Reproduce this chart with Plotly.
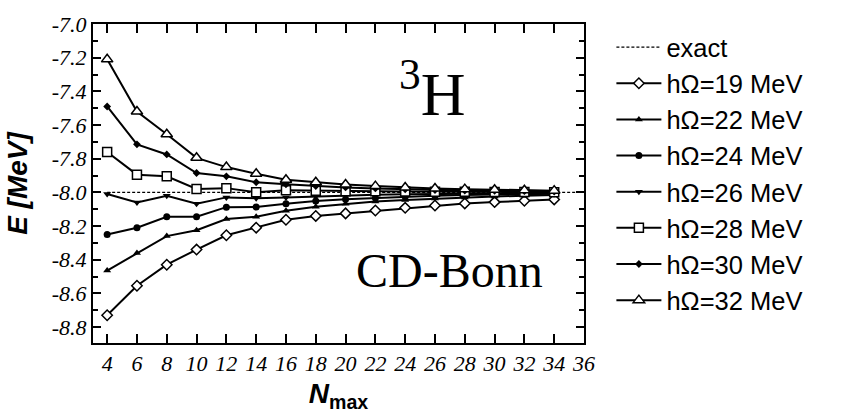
import plotly.graph_objects as go

# ---- data ----
n_max = [4, 6, 8, 10, 12, 14, 16, 18, 20, 22, 24, 26, 28, 30, 32, 34]
exact_E = -8.0
exact_x = [4, 36]

e_19 = [-8.73, -8.555, -8.43, -8.34, -8.255, -8.21, -8.163, -8.14, -8.125, -8.108, -8.092, -8.078, -8.066, -8.058, -8.05, -8.042]
e_22 = [-8.465, -8.36, -8.26, -8.225, -8.158, -8.145, -8.11, -8.085, -8.068, -8.055, -8.045, -8.037, -8.03, -8.025, -8.02, -8.016]
e_24 = [-8.25, -8.21, -8.145, -8.145, -8.088, -8.087, -8.068, -8.052, -8.041, -8.033, -8.026, -8.02, -8.016, -8.013, -8.01, -8.008]
e_26 = [-8.01, -8.06, -8.02, -8.068, -8.03, -8.035, -8.03, -8.024, -8.019, -8.015, -8.012, -8.01, -8.008, -8.006, -8.005, -8.004]
e_28 = [-7.76, -7.895, -7.905, -7.98, -7.975, -8.0, -7.988, -7.991, -7.993, -7.994, -7.995, -7.996, -7.997, -7.998, -7.998, -7.999]
e_30 = [-7.49, -7.715, -7.775, -7.885, -7.905, -7.94, -7.952, -7.963, -7.971, -7.977, -7.982, -7.986, -7.989, -7.991, -7.993, -7.995]
e_32 = [-7.21, -7.52, -7.655, -7.795, -7.85, -7.89, -7.925, -7.94, -7.953, -7.963, -7.971, -7.977, -7.981, -7.985, -7.988, -7.99]

series_names = ["hΩ=19 MeV", "hΩ=22 MeV", "hΩ=24 MeV", "hΩ=26 MeV",
                "hΩ=28 MeV", "hΩ=30 MeV", "hΩ=32 MeV"]
series_values = [e_19, e_22, e_24, e_26, e_28, e_30, e_32]

x_ticks = list(range(4, 37, 2))
x_tick_labels = [str(v) for v in x_ticks]
y_ticks = [-8.8, -8.6, -8.4, -8.2, -8.0, -7.8, -7.6, -7.4, -7.2, -7.0]
y_tick_labels = ["-8.8", "-8.6", "-8.4", "-8.2", "-8.0", "-7.8", "-7.6", "-7.4", "-7.2", "-7.0"]

# ---- styles ----
marker_styles = [
    dict(symbol="diamond", size=8, color="white", line=dict(color="black", width=1.5)),
    dict(symbol="triangle-up", size=7, color="black", line=dict(color="black", width=0)),
    dict(symbol="circle", size=7, color="black", line=dict(color="black", width=0)),
    dict(symbol="triangle-down", size=7, color="black", line=dict(color="black", width=0)),
    dict(symbol="square", size=9, color="white", line=dict(color="black", width=1.5)),
    dict(symbol="diamond", size=6, color="black", line=dict(color="black", width=0)),
    dict(symbol="triangle-up", size=10, color="white", line=dict(color="black", width=1.5)),
]

SERIF = "Liberation Serif, Times New Roman, serif"
SANS = "Liberation Sans, Arial, sans-serif"

fig = go.Figure()

fig.add_trace(go.Scatter(
    x=exact_x, y=[exact_E, exact_E], mode="lines", name="exact",
    line=dict(color="black", width=1.3, dash="3px,2px"), legendgroup="exact"))

for name, vals, ms in zip(series_names, series_values, marker_styles):
    fig.add_trace(go.Scatter(
        x=n_max, y=vals, mode="lines+markers", name=name, legendgroup=name,
        line=dict(color="black", width=2), marker=ms))

axis_common = dict(showline=True, linecolor="black", linewidth=2, mirror="allticks",
                   ticks="inside", tickcolor="black", tickwidth=1.5,
                   showgrid=False, zeroline=False,
                   tickfont=dict(family=SERIF, size=22, color="black"))

fig.update_xaxes(range=[3.05, 36], tickvals=x_ticks,
                 ticktext=["<i>" + t + "</i>" for t in x_tick_labels], ticklen=9,
                 title=dict(text="<b><i>N</i><sub>max</sub></b>",
                            font=dict(family=SANS, size=28, color="black"),
                            standoff=8),
                 **axis_common)
fig.update_yaxes(range=[-8.895, -7.0], tickvals=y_ticks,
                 ticktext=["<i>" + t + "</i>" for t in y_tick_labels], ticklen=8,
                 minor=dict(ticks="inside", dtick=0.1, tick0=-9.0, ticklen=5, tickwidth=1.5,
                            tickcolor="black", showgrid=False),
                 title=dict(text="<b><i>E [MeV]</i></b>",
                            font=dict(family=SANS, size=28, color="black"),
                            standoff=16),
                 **axis_common)

fig.add_annotation(x=0.69, y=0.795, xref="paper", yref="paper", showarrow=False,
                   xanchor="center", yanchor="middle",
                   text="<sup>3</sup>H",
                   font=dict(family=SERIF, size=62, color="black"))
fig.add_annotation(x=0.727, y=0.228, xref="paper", yref="paper", showarrow=False,
                   xanchor="center", yanchor="middle",
                   text="CD-Bonn",
                   font=dict(family=SERIF, size=48, color="black"))

fig.update_layout(
    width=854, height=419,
    margin=dict(l=93, r=270, t=16, b=76),
    paper_bgcolor="white", plot_bgcolor="white",
    showlegend=True,
    legend=dict(x=1.0558, y=1.0, xanchor="left", yanchor="top",
                font=dict(family=SANS, size=25.5, color="black"),
                bgcolor="rgba(0,0,0,0)", tracegroupgap=0, itemwidth=45),
)

fig.write_html("out.html")
